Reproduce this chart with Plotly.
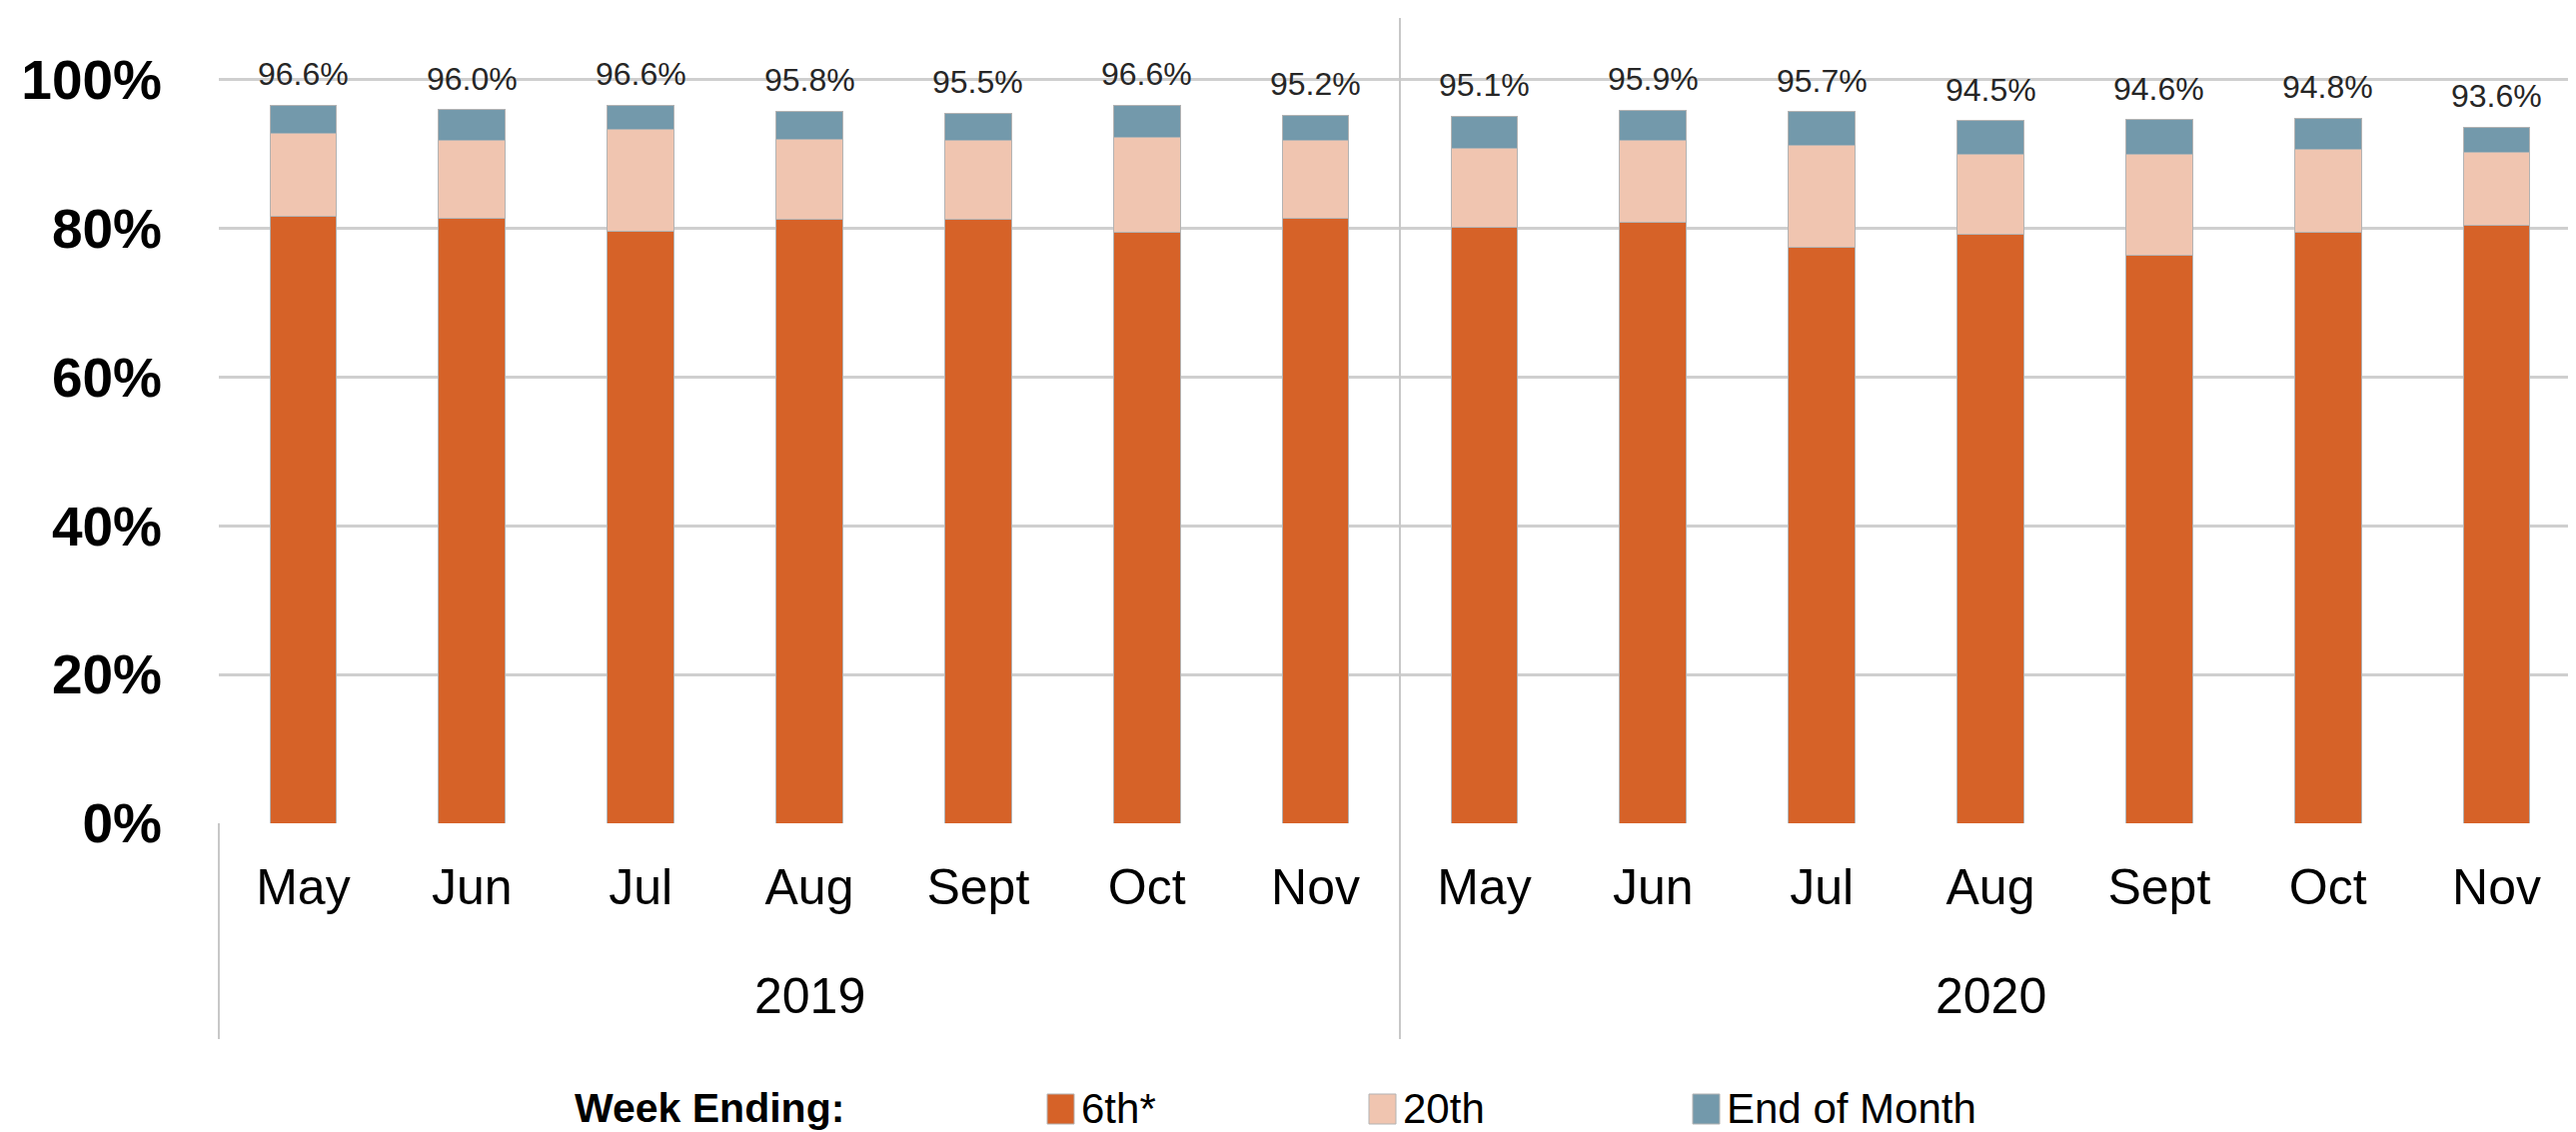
import plotly.graph_objects as go

# ---- data (percent) ----
years = ["2019"] * 7 + ["2020"] * 7
months = ["May", "Jun", "Jul", "Aug", "Sept", "Oct", "Nov",
          "May", "Jun", "Jul", "Aug", "Sept", "Oct", "Nov"]
sixth = [81.6, 81.3, 79.6, 81.2, 81.2, 79.5, 81.4,
         80.1, 80.8, 77.4, 79.2, 76.4, 79.5, 80.4]
twentieth = [11.2, 10.6, 13.7, 10.8, 10.6, 12.7, 10.4,
             10.6, 11.1, 13.8, 10.7, 13.6, 11.1, 9.8]
end_of_month = [3.8, 4.1, 3.3, 3.8, 3.7, 4.4, 3.4,
                4.4, 4.0, 4.5, 4.6, 4.6, 4.2, 3.4]
y_ticks = [0, 20, 40, 60, 80, 100]
y_tick_labels = ["0%", "20%", "40%", "60%", "80%", "100%"]
series_names = ["6th*", "20th", "End of Month"]
legend_title = "Week Ending:"

# ---- style ----
C_SIXTH = "#D66228"
C_TWENTIETH = "#F0C5B0"
C_EOM = "#7399AB"
OUTLINE = "#b3b3b3"
GRID = "#cfcfcf"
FONT = "Liberation Sans, Arial, sans-serif"

W, H = 2578, 1133
ML, MR, MT, MB = 211, 3, 10, 317
PW, PH = W - ML - MR, H - MT - MB


def px_x(px):
    return (px - ML) / PW


def px_y(py):
    return (H - MB - py) / PH


cats = [f"{m} {y}" for m, y in zip(months, years)]
totals = [round(a + b + c, 1) for a, b, c in zip(sixth, twentieth, end_of_month)]

fig = go.Figure()
for name, vals, col in zip(series_names, [sixth, twentieth, end_of_month],
                           [C_SIXTH, C_TWENTIETH, C_EOM]):
    fig.add_trace(go.Bar(
        x=cats, y=vals, name=name,
        marker=dict(color=col, line=dict(color=OUTLINE, width=1)),
        showlegend=False,
    ))

# total labels above bars
for c, t in zip(cats, totals):
    fig.add_annotation(
        x=c, y=t, xref="x", yref="y", text=f"{t:.1f}%",
        showarrow=False, yanchor="bottom", yshift=11,
        font=dict(family=FONT, size=32, color="#262626"),
    )

# year labels
year_names = ["2019", "2020"]
for yr in year_names:
    idx = [i for i, y in enumerate(years) if y == yr]
    mid = (idx[0] + idx[-1]) / 2
    fig.add_annotation(
        x=mid, y=px_y(989), xref="x", yref="paper", text=yr,
        showarrow=False, yanchor="middle",
        font=dict(family=FONT, size=50, color="#000000"),
    )

# group lines
line_bottom = px_y(1032)
fig.add_shape(type="line", xref="paper", yref="paper", x0=0, x1=0,
              y0=0, y1=line_bottom, line=dict(color="#c8c8c8", width=2))
fig.add_shape(type="line", xref="x", yref="paper", x0=6.5, x1=6.5,
              y0=1, y1=line_bottom, line=dict(color="#c8c8c8", width=2))

# manual legend
ly = 1101
fig.add_annotation(x=px_x(565), y=px_y(ly), xref="paper", yref="paper",
                   text=f"<b>{legend_title}</b>", showarrow=False,
                   xanchor="left", yanchor="middle",
                   font=dict(family=FONT, size=41, color="#000000"))
legend_items = [(1040, C_SIXTH, series_names[0]),
                (1362, C_TWENTIETH, series_names[1]),
                (1686, C_EOM, series_names[2])]
for sx, col, name in legend_items:
    fig.add_shape(type="rect", xref="paper", yref="paper",
                  x0=px_x(sx), x1=px_x(sx + 27), y0=px_y(1087), y1=px_y(1117),
                  fillcolor=col, line=dict(color=OUTLINE, width=1))
    fig.add_annotation(x=px_x(sx + 32), y=px_y(ly), xref="paper", yref="paper",
                       text=name, showarrow=False, xanchor="left", yanchor="middle",
                       font=dict(family=FONT, size=42, color="#000000"))

fig.update_layout(
    width=W, height=H,
    margin=dict(l=ML, r=MR, t=MT, b=MB),
    barmode="stack", bargap=0.605,
    plot_bgcolor="white", paper_bgcolor="white",
    font=dict(family=FONT, color="#000000"),
)
fig.update_xaxes(
    type="category", tickvals=cats, ticktext=months,
    tickfont=dict(family=FONT, size=50, color="#000000"),
    showgrid=False, zeroline=False, showline=False,
    ticks="", ticklabelstandoff=30,
)
fig.update_yaxes(
    range=[0, 108.3], tickvals=y_ticks, ticktext=y_tick_labels,
    tickfont=dict(family=FONT, size=55, color="#000000", weight="bold"),
    showgrid=True, gridcolor=GRID, gridwidth=3,
    zeroline=False, showline=False, ticks="", ticklabelstandoff=56,
)

fig.write_html("out.html")
